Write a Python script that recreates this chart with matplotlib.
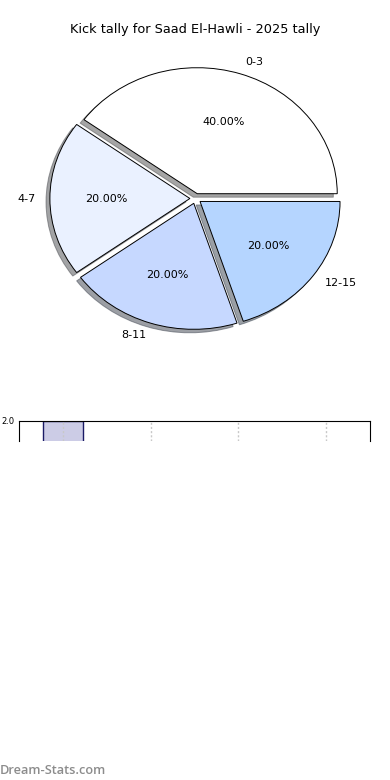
import matplotlib
matplotlib.use("Agg")
import matplotlib.pyplot as plt

# kick distance bands and how many kicks fell in each
bands = ["0-3", "4-7", "8-11", "12-15"]
kicks = [2, 1, 1, 1]
pie_colors = ["#ffffff", "#eaf1ff", "#c6d8ff", "#b5d5ff"]

# lower panel (only the top sliver of it shows)
bar_positions = [0, 1, 2, 3]
bar_values = [2, 1, 1, 1]

fig = plt.figure(figsize=(3.9, 7.8), dpi=100)

ax = fig.add_axes([20.5 / 390, 1 - 356 / 780, 350 / 390, 315 / 780])
ax.pie(kicks, labels=bands, colors=pie_colors, autopct="%.2f%%",
       explode=[0.04] * len(kicks), shadow=True,
       wedgeprops={"edgecolor": "black", "linewidth": 0.7},
       textprops={"fontsize": 8})
ax.set_aspect("auto")
ax.set_xlim(-1.25, 1.25)
ax.set_ylim(-1.25, 1.25)
fig.text(0.5, 1 - 30 / 780, "Kick tally for Saad El-Hawli - 2025 tally",
         ha="center", va="center", fontsize=9.3)

bx = fig.add_axes([19 / 390, 1 - 441 / 780, 351 / 390, 20 / 780])
bx.bar(bar_positions, bar_values, width=0.45, color="#ccccE6",
       edgecolor="#1a1a66", linewidth=1)
bx.set_xlim(-0.5, 3.5)
bx.set_ylim(1.9, 2.0)
bx.set_yticks([2.0])
bx.set_yticklabels(["2.0"], fontsize=6)
bx.tick_params(axis="y", length=0, pad=3)
bx.set_xticks(bar_positions)
bx.tick_params(axis="x", length=0, labelbottom=False)
bx.grid(axis="x", color="#c8c8c8", linestyle=(0, (1.5, 1.5)), linewidth=1)
bx.set_axisbelow(False)
bx.spines["bottom"].set_visible(False)

fig.text(0.0, 1 - 771 / 780, "Dream-Stats.com", fontsize=9.2, color="#8c8c8c",
         ha="left", va="center", family="Open Sans", weight="semibold")

fig.savefig("out.png", dpi=100)
